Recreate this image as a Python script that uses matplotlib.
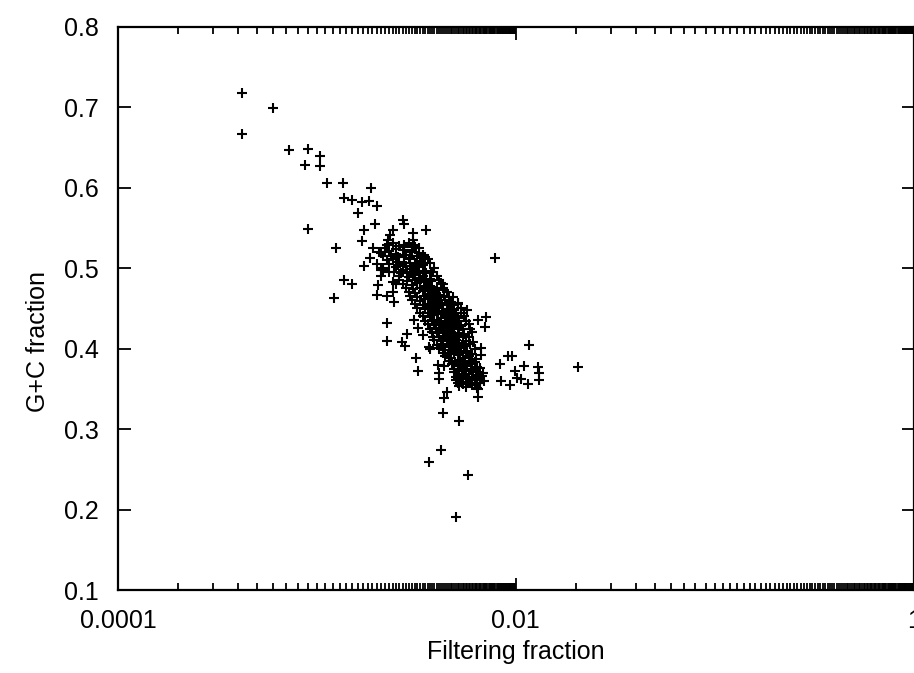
import numpy as np
import matplotlib
matplotlib.use("Agg")
from matplotlib import pyplot as plt
from matplotlib.ticker import FixedLocator, FixedFormatter, NullFormatter

plt.rcParams["font.family"] = ["Liberation Sans", "DejaVu Sans"]

# scattered points around the main cloud (filtering fraction, G+C fraction)
outer_filter = [
    4.2e-4, 4.2e-4, 6.04e-4, 7.27e-4, 9.06e-4, 1.041e-3, 8.75e-4, 1.041e-3,
    1.129e-3, 1.359e-3, 1.881e-3, 1.375e-3, 1.509e-3, 1.695e-3, 1.837e-3, 2.016e-3,
    1.617e-3, 1.970e-3, 9.06e-4, 1.715e-3, 1.695e-3, 1.254e-3, 1.925e-3, 1.859e-3,
    1.734e-3, 2.694e-3, 2.725e-3, 2.425e-3, 2.344e-3, 2.29e-3, 2.26e-3, 2.088e-3,
    2.16e-3, 1.375e-3, 1.509e-3, 1.212e-3, 2.088e-3, 2.04e-3, 2.016e-3, 2.26e-3,
    2.454e-3, 2.26e-3, 2.26e-3, 2.663e-3, 2.757e-3, 2.822e-3, 3.133e-3, 3.207e-3,
    3.685e-3, 4.04e-3, 4.333e-3, 4.09e-3, 4.09e-3, 4.488e-3, 4.333e-3, 4.282e-3,
    5.16e-3, 4.186e-3, 3.643e-3, 5.72e-3, 4.982e-3, 7.83e-3, 7.054e-3, 6.97e-3,
    6.657e-3, 6.657e-3, 1.161e-2, 9.11e-3, 9.54e-3, 8.30e-3, 9.87e-3, 1.096e-2,
    1.288e-2, 1.303e-2, 1.303e-2, 8.394e-3, 9.32e-3, 1.011e-2, 1.058e-2, 1.146e-2,
    2.053e-2, 6.43e-3, 6.43e-3, 3.518e-3, 3.025e-3, 3.025e-3, 3.06e-3, 2.725e-3,
    2.484e-3, 3.245e-3, 3.32e-3, 3.436e-3, 2.16e-3, 2.425e-3, 3.728e-3, 4.186e-3,
    4.333e-3, 3.86e-3, 4.81e-3, 5.10e-3, 5.66e-3, 6.43e-3, 3.06e-3, 3.207e-3,
    3.43e-3, 3.643e-3,
    2.0e-3, 2.1e-3, 2.2e-3, 2.15e-3, 2.3e-3, 2.05e-3, 2.25e-3, 2.4e-3, 2.5e-3,
]
outer_gc = [
    0.718, 0.667, 0.699, 0.647, 0.648, 0.640, 0.628, 0.627,
    0.606, 0.606, 0.600, 0.587, 0.585, 0.582, 0.584, 0.577,
    0.569, 0.555, 0.549, 0.548, 0.534, 0.525, 0.525, 0.513,
    0.503, 0.560, 0.555, 0.548, 0.541, 0.535, 0.529, 0.519,
    0.515, 0.485, 0.480, 0.463, 0.498, 0.479, 0.467, 0.466,
    0.458, 0.432, 0.410, 0.408, 0.403, 0.418, 0.388, 0.372,
    0.400, 0.380, 0.379, 0.370, 0.362, 0.346, 0.339, 0.320,
    0.310, 0.274, 0.259, 0.243, 0.191, 0.513, 0.439, 0.427,
    0.401, 0.392, 0.405, 0.391, 0.391, 0.381, 0.372, 0.379,
    0.377, 0.370, 0.361, 0.360, 0.355, 0.364, 0.362, 0.356,
    0.377, 0.340, 0.350, 0.548, 0.544, 0.535, 0.529, 0.529,
    0.514, 0.519, 0.513, 0.507, 0.498, 0.483, 0.495, 0.482,
    0.473, 0.473, 0.464, 0.457, 0.448, 0.436, 0.436, 0.426,
    0.417, 0.402,
    0.505, 0.490, 0.520, 0.500, 0.495, 0.520, 0.510, 0.470, 0.480,
]

# dense core of the cloud
core_filter = [
    2.4e-3, 2.6e-3, 2.9e-3, 3.1e-3,
    2.3e-3, 2.5e-3, 2.7e-3, 2.8e-3, 3.0e-3, 3.4e-3,
    2.4e-3, 2.6e-3, 2.9e-3, 3.1e-3, 3.3e-3, 3.6e-3,
    2.5e-3, 2.7e-3, 2.8e-3, 3.0e-3, 3.2e-3, 3.5e-3, 3.9e-3,
    2.6e-3, 2.9e-3, 3.1e-3, 3.3e-3, 3.4e-3, 3.7e-3, 4.0e-3,
    2.7e-3, 3.0e-3, 3.2e-3, 3.5e-3, 3.6e-3, 3.8e-3, 4.3e-3,
    2.9e-3, 3.1e-3, 3.4e-3, 3.6e-3, 3.9e-3, 4.1e-3, 4.5e-3,
    3.0e-3, 3.3e-3, 3.5e-3, 3.8e-3, 4.0e-3, 4.2e-3, 4.4e-3, 4.7e-3,
    3.2e-3, 3.5e-3, 3.7e-3, 3.9e-3, 4.1e-3, 4.3e-3, 4.6e-3, 4.9e-3, 5.3e-3,
    3.4e-3, 3.7e-3, 3.9e-3, 4.2e-3, 4.4e-3, 4.6e-3, 4.8e-3, 5.1e-3, 5.5e-3,
    3.6e-3, 3.9e-3, 4.1e-3, 4.3e-3, 4.5e-3, 4.8e-3, 5.0e-3, 5.3e-3, 5.8e-3,
    3.8e-3, 4.0e-3, 4.3e-3, 4.5e-3, 4.7e-3, 4.9e-3, 5.2e-3, 5.5e-3, 6.0e-3,
    3.9e-3, 4.2e-3, 4.5e-3, 4.7e-3, 5.0e-3, 5.2e-3, 5.6e-3, 6.1e-3,
    4.1e-3, 4.4e-3, 4.7e-3, 5.0e-3, 5.3e-3, 5.7e-3, 6.2e-3,
    4.4e-3, 4.7e-3, 5.1e-3, 5.4e-3, 5.8e-3, 6.3e-3,
    4.8e-3, 5.1e-3, 5.4e-3, 5.7e-3, 6.0e-3, 6.4e-3,
    4.9e-3, 5.2e-3, 5.5e-3, 5.8e-3, 6.1e-3, 6.5e-3, 6.8e-3,
    5.0e-3, 5.3e-3, 5.6e-3, 5.9e-3, 6.2e-3, 6.6e-3, 6.9e-3,
    5.2e-3, 5.6e-3, 6.0e-3, 6.4e-3,
]
core_gc = [
    0.532, 0.528, 0.531, 0.526,
    0.521, 0.518, 0.523, 0.516, 0.520, 0.517,
    0.511, 0.508, 0.512, 0.506, 0.509, 0.511,
    0.501, 0.498, 0.503, 0.499, 0.502, 0.497, 0.500,
    0.491, 0.489, 0.492, 0.488, 0.491, 0.487, 0.490,
    0.481, 0.479, 0.482, 0.478, 0.481, 0.477, 0.480,
    0.471, 0.469, 0.472, 0.468, 0.471, 0.467, 0.470,
    0.461, 0.459, 0.462, 0.458, 0.461, 0.457, 0.460, 0.458,
    0.451, 0.449, 0.452, 0.448, 0.451, 0.447, 0.450, 0.448, 0.451,
    0.441, 0.439, 0.442, 0.438, 0.441, 0.437, 0.440, 0.438, 0.441,
    0.431, 0.429, 0.432, 0.428, 0.431, 0.427, 0.430, 0.428, 0.431,
    0.421, 0.419, 0.422, 0.418, 0.421, 0.417, 0.420, 0.418, 0.421,
    0.411, 0.409, 0.412, 0.408, 0.411, 0.407, 0.410, 0.408,
    0.401, 0.399, 0.402, 0.398, 0.401, 0.397, 0.400,
    0.391, 0.389, 0.392, 0.388, 0.391, 0.387,
    0.381, 0.379, 0.382, 0.378, 0.381, 0.377,
    0.371, 0.369, 0.372, 0.368, 0.371, 0.367, 0.370,
    0.361, 0.359, 0.362, 0.358, 0.361, 0.357, 0.360,
    0.354, 0.352, 0.355, 0.351,
]

# second pass through the core, between the rows above
fill_filter = [
    2.2e-3, 2.5e-3, 2.75e-3, 3.0e-3, 3.25e-3,
    2.35e-3, 2.55e-3, 2.75e-3, 2.95e-3, 3.2e-3, 3.5e-3,
    2.3e-3, 2.55e-3, 2.75e-3, 2.95e-3, 3.15e-3, 3.4e-3, 3.7e-3,
    2.45e-3, 2.65e-3, 2.85e-3, 3.05e-3, 3.25e-3, 3.55e-3, 3.85e-3,
    2.6e-3, 2.85e-3, 3.1e-3, 3.3e-3, 3.55e-3, 3.75e-3, 4.1e-3,
    2.8e-3, 3.05e-3, 3.3e-3, 3.5e-3, 3.75e-3, 4.0e-3, 4.3e-3,
    2.95e-3, 3.2e-3, 3.45e-3, 3.7e-3, 3.95e-3, 4.15e-3, 4.35e-3, 4.6e-3,
    3.1e-3, 3.4e-3, 3.6e-3, 3.85e-3, 4.05e-3, 4.25e-3, 4.5e-3, 4.8e-3, 5.1e-3,
    3.3e-3, 3.6e-3, 3.8e-3, 4.05e-3, 4.3e-3, 4.5e-3, 4.7e-3, 5.0e-3, 5.3e-3,
    3.5e-3, 3.8e-3, 4.0e-3, 4.2e-3, 4.4e-3, 4.65e-3, 4.9e-3, 5.2e-3, 5.6e-3,
    3.7e-3, 3.95e-3, 4.2e-3, 4.4e-3, 4.6e-3, 4.85e-3, 5.1e-3, 5.4e-3, 5.9e-3,
    3.85e-3, 4.1e-3, 4.4e-3, 4.6e-3, 4.85e-3, 5.1e-3, 5.4e-3, 5.8e-3,
    4.0e-3, 4.3e-3, 4.6e-3, 4.85e-3, 5.15e-3, 5.5e-3, 5.9e-3,
    4.3e-3, 4.55e-3, 4.9e-3, 5.2e-3, 5.6e-3, 6.0e-3,
    4.6e-3, 4.95e-3, 5.25e-3, 5.55e-3, 5.85e-3, 6.2e-3,
    4.9e-3, 5.1e-3, 5.35e-3, 5.65e-3, 5.95e-3, 6.3e-3, 6.6e-3,
    5.0e-3, 5.15e-3, 5.45e-3, 5.75e-3, 6.05e-3, 6.35e-3, 6.75e-3,
    5.1e-3, 5.4e-3, 5.8e-3, 6.2e-3, 6.6e-3,
]
fill_gc = [
    0.525, 0.524, 0.526, 0.523, 0.525,
    0.515, 0.514, 0.516, 0.513, 0.515, 0.514,
    0.505, 0.504, 0.506, 0.503, 0.505, 0.504, 0.506,
    0.495, 0.494, 0.496, 0.493, 0.495, 0.494, 0.496,
    0.485, 0.484, 0.486, 0.483, 0.485, 0.484, 0.486,
    0.475, 0.474, 0.476, 0.473, 0.475, 0.474, 0.476,
    0.465, 0.464, 0.466, 0.463, 0.465, 0.464, 0.466, 0.464,
    0.455, 0.454, 0.456, 0.453, 0.455, 0.454, 0.456, 0.454, 0.455,
    0.445, 0.444, 0.446, 0.443, 0.445, 0.444, 0.446, 0.444, 0.445,
    0.435, 0.434, 0.436, 0.433, 0.435, 0.434, 0.436, 0.434, 0.435,
    0.425, 0.424, 0.426, 0.423, 0.425, 0.424, 0.426, 0.424, 0.425,
    0.415, 0.414, 0.416, 0.413, 0.415, 0.414, 0.416, 0.414,
    0.405, 0.404, 0.406, 0.403, 0.405, 0.404, 0.406,
    0.395, 0.394, 0.396, 0.393, 0.395, 0.394,
    0.385, 0.384, 0.386, 0.383, 0.385, 0.384,
    0.375, 0.374, 0.376, 0.373, 0.375, 0.374, 0.376,
    0.365, 0.364, 0.366, 0.363, 0.365, 0.364, 0.366,
    0.357, 0.356, 0.358, 0.355, 0.357,
]

x_ticks = [0.0001, 0.01, 1]
x_ticklabels = ["0.0001", "0.01", "1"]
y_ticks = [0.1, 0.2, 0.3, 0.4, 0.5, 0.6, 0.7, 0.8]


def plot_data(fname):
    """scatter of G+C fraction against filtering fraction"""
    fig = plt.figure(figsize=(9.14, 6.73), dpi=100)
    ax = fig.add_axes([0.1291, 0.1233, 0.8705, 0.8366])
    xs = outer_filter + core_filter + fill_filter
    ys = outer_gc + core_gc + fill_gc
    ax.plot(xs, ys, "k+", markersize=7.5, markeredgewidth=1.5)
    ax.set_xscale("log")
    ax.set_xlim(0.0001, 1)
    ax.set_ylim(0.1, 0.8)

    ax.xaxis.set_major_locator(FixedLocator(x_ticks))
    ax.xaxis.set_major_formatter(FixedFormatter(x_ticklabels))
    minors = [k * 1e-4 for k in range(2, 100)] + [k * 1e-2 for k in range(2, 100)]
    ax.xaxis.set_minor_locator(FixedLocator(minors))
    ax.xaxis.set_minor_formatter(NullFormatter())
    ax.set_yticks(y_ticks)
    ax.set_yticklabels([f"{v:.1f}" for v in y_ticks])

    ax.tick_params(which="both", direction="in", top=True, right=True,
                   labelsize=18, pad=14, width=1.3)
    ax.tick_params(which="major", length=9)
    ax.tick_params(which="minor", length=5)
    for s in ax.spines.values():
        s.set_linewidth(1.6)

    ax.set_xlabel("Filtering fraction", fontsize=18, labelpad=5)
    ax.set_ylabel("G+C fraction", fontsize=18)
    ax.yaxis.set_label_coords(-0.085, 0.442)
    fig.savefig(fname, dpi=100)
    plt.close(fig)


if __name__ == "__main__":
    plot_data("out.png")
